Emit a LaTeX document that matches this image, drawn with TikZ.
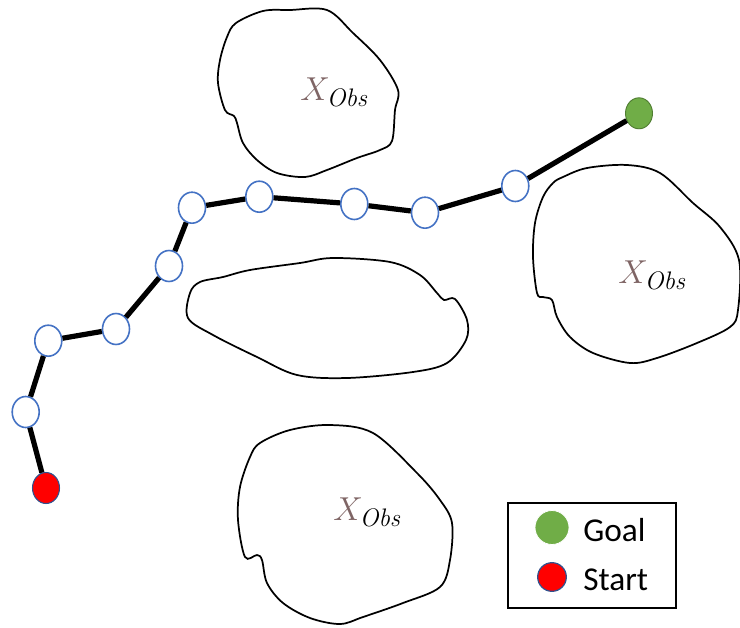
\documentclass[tikz,border=0pt]{standalone}
\usepackage{fontspec}
\newfontfamily\legendfont{Carlito}
\usetikzlibrary{shapes.geometric}
\definecolor{nodeblue}{HTML}{4472C4}
\definecolor{goalgreen}{HTML}{70AD47}
\definecolor{goaledge}{HTML}{507E32}
\definecolor{startedge}{HTML}{2F528F}
\definecolor{obscol}{HTML}{7F6565}
\tikzset{
  waypoint/.style={ellipse, draw=nodeblue, fill=white, line width=1.2pt,
    minimum width=20.25pt, minimum height=23.25pt, inner sep=0pt},
  goalnode/.style={waypoint, draw=goaledge, fill=goalgreen, line width=0.7pt},
  startnode/.style={waypoint, draw=startedge, fill=red, line width=0.8pt},
  pathseg/.style={line width=3.9pt, black},
  obstacle/.style={line width=1.3pt, black, smooth cycle, tension=0.55},
  obslabel/.style={anchor=base west, inner sep=0pt,
    font=\fontsize{24}{28}\selectfont},
  legendtext/.style={anchor=base west, inner sep=0pt,
    font=\legendfont\fontsize{25}{30}\selectfont}
}
\newcommand{\obsname}{\textcolor{obscol}{$X$}\kern-2.5pt\raisebox{-4.5pt}{\fontsize{19}{21}\selectfont\itshape Obs}}
\begin{document}
\begin{tikzpicture}[x=0.75pt,y=-0.75pt]
\useasboundingbox (0,0) rectangle (740,628);

% obstacle regions
\draw[obstacle] plot coordinates {
  (263,11) (290,10) (327,10) (353,33) (380,60) (398,90) (395,110)
  (392,141) (380,150) (357,158) (327,170) (305,177) (277,173)
  (257,160) (243,143) (237,123) (234,116) (225,110) (218,83)
  (220,60) (227,37) (236,23)};
\draw[obstacle] plot coordinates {
  (563,177) (587,168) (627,165) (660,173) (693,203) (720,227)
  (739,260) (738,310) (730,327) (697,343) (657,358) (630,363)
  (593,353) (570,337) (557,317) (552,300) (543,297) (537,293)
  (533,257) (535,223) (543,197) (553,183)};
\draw[obstacle] plot coordinates {
  (188,318) (190,293) (200,282) (223,277) (250,270) (300,263)
  (333,258) (390,262) (420,275) (437,293) (444,300) (455,299)
  (467,320) (466,340) (447,363) (413,372) (347,378) (297,375)
  (257,357) (213,335)};
\draw[obstacle] plot coordinates {
  (290,430) (330,425) (373,433) (417,473) (440,500) (452,523)
  (450,560) (440,587) (403,603) (363,617) (340,624) (310,618)
  (283,603) (267,583) (262,560) (257,555) (245,557) (238,520)
  (240,487) (250,457) (260,443)};

% obstacle labels
\node[obslabel] (lab1) at (300,100) {\obsname};
\node[obslabel] (lab2) at (618,283) {\obsname};
\node[obslabel] (lab3) at (333,520) {\obsname};

% waypoints along the found path
\node[startnode] (s)  at (46,488) {};
\node[waypoint]  (w1) at (25.7,412) {};
\node[waypoint]  (w2) at (48.3,340.7) {};
\node[waypoint]  (w3) at (116,329) {};
\node[waypoint]  (w4) at (169,266) {};
\node[waypoint]  (w5) at (192,207.7) {};
\node[waypoint]  (w6) at (259.3,196.7) {};
\node[waypoint]  (w7) at (354.3,204) {};
\node[waypoint]  (w8) at (425,212.7) {};
\node[waypoint]  (w9) at (515.3,186) {};
\node[goalnode]  (g)  at (639,113.3) {};

% path segments
\draw[pathseg] (s) -- (w1);
\draw[pathseg] (w1) -- (w2);
\draw[pathseg] (w2) -- (w3);
\draw[pathseg] (w3) -- (w4);
\draw[pathseg] (w4) -- (w5);
\draw[pathseg] (w5) -- (w6);
\draw[pathseg] (w6) -- (w7);
\draw[pathseg] (w7) -- (w8);
\draw[pathseg] (w8) -- (w9);
\draw[pathseg] (w9) -- (g);

% legend
\node[draw=black, line width=1.2pt, minimum width=126pt, minimum height=78.75pt,
  inner sep=0pt] (legend) at (592,555.5) {};
\node[circle, fill=goalgreen, draw=white, line width=0.6pt,
  minimum size=25.5pt, inner sep=0pt] (lg) at (552,527.5) {};
\node[circle, fill=red, draw=startedge, line width=0.9pt,
  minimum size=21.5pt, inner sep=0pt] (ls) at (552,577) {};
\node[legendtext] (lgt) at (583,541.7) {Goal};
\node[legendtext] (lst) at (583,590) {Start};
\end{tikzpicture}
\end{document}
